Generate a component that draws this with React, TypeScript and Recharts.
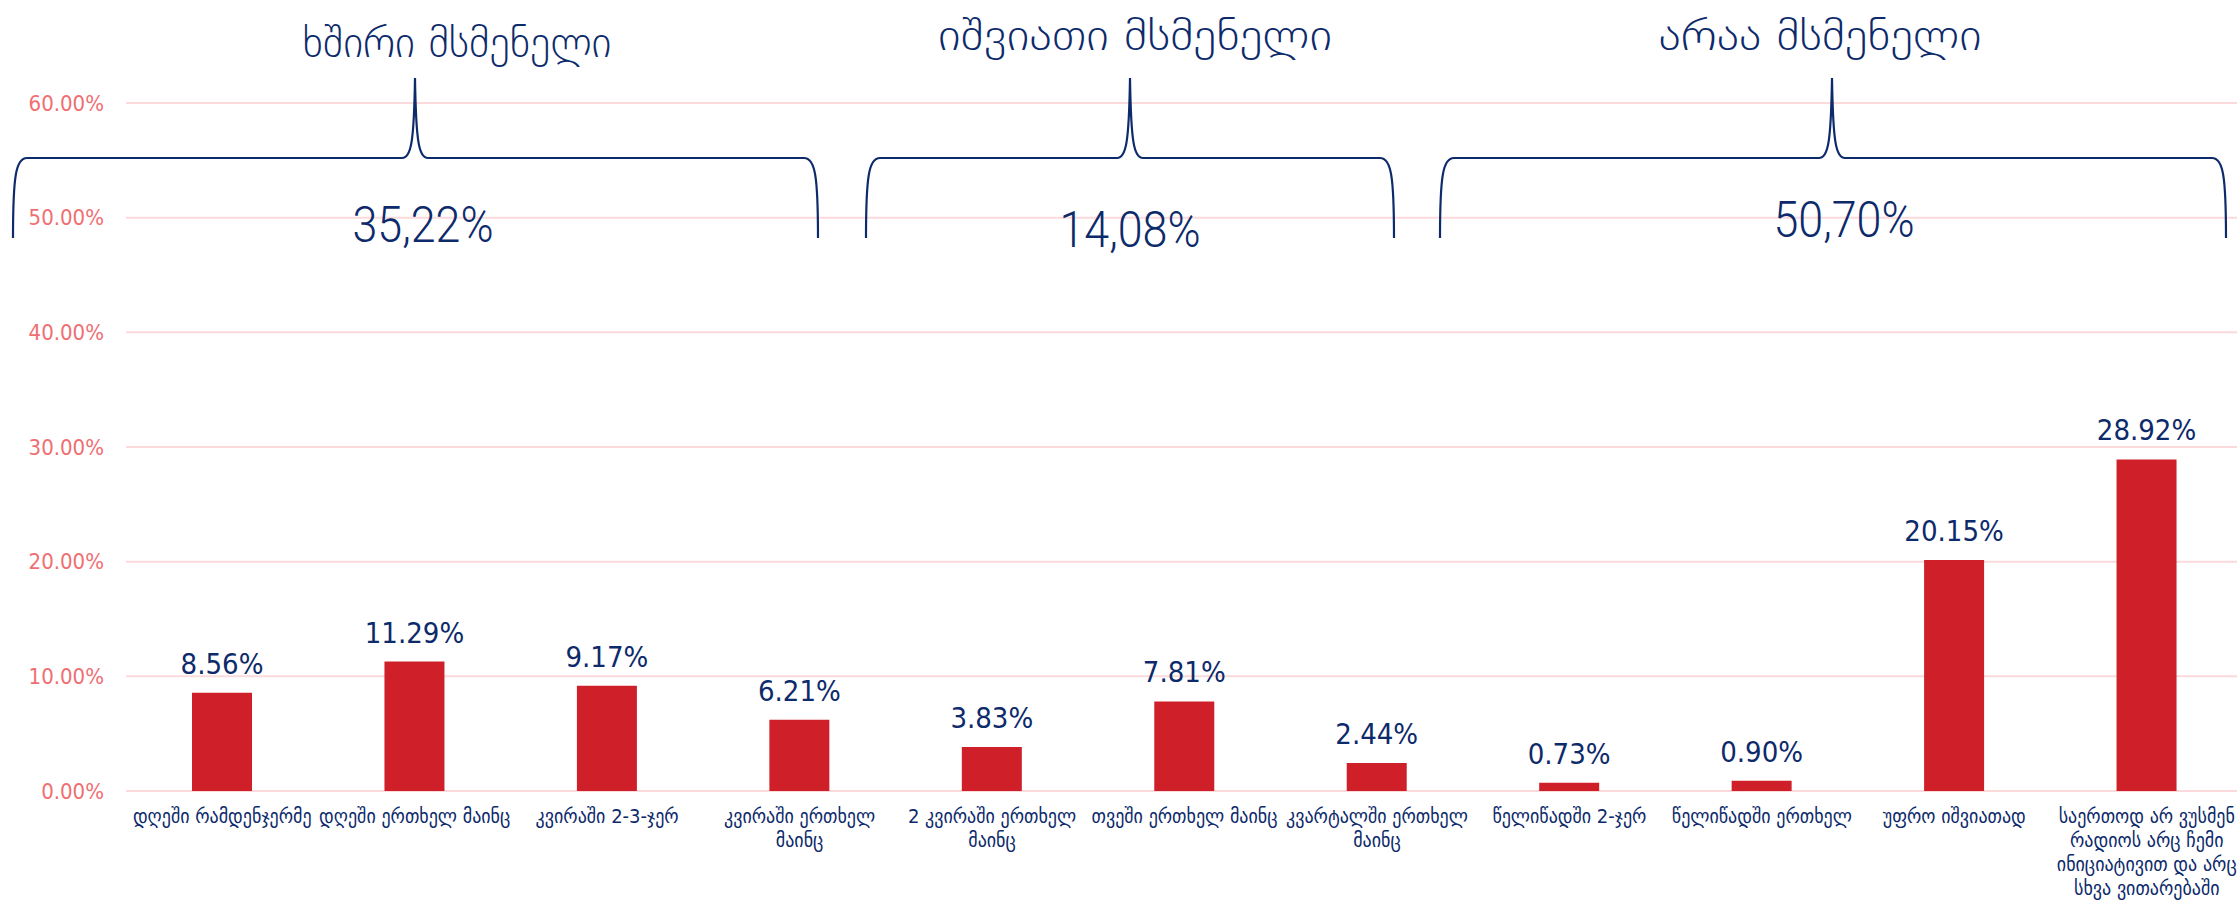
import React from 'react';
import { BarChart, Bar, XAxis, YAxis, CartesianGrid, LabelList } from 'recharts';

// ---- data ----
const categories: string[] = [
  'დღეში რამდენჯერმე',
  'დღეში ერთხელ მაინც',
  'კვირაში 2-3-ჯერ',
  'კვირაში ერთხელ მაინც',
  '2 კვირაში ერთხელ მაინც',
  'თვეში ერთხელ მაინც',
  'კვარტალში ერთხელ მაინც',
  'წელიწადში 2-ჯერ',
  'წელიწადში ერთხელ',
  'უფრო იშვიათად',
  'საერთოდ არ ვუსმენ რადიოს არც ჩემი ინიციატივით და არც სხვა ვითარებაში',
];
const shares: number[] = [8.56, 11.29, 9.17, 6.21, 3.83, 7.81, 2.44, 0.73, 0.9, 20.15, 28.92];
const yTicks: number[] = [0, 10, 20, 30, 40, 50, 60];
const groupTitles: string[] = ['ხშირი მსმენელი', 'იშვიათი მსმენელი', 'არაა მსმენელი'];
const groupTotals: string[] = ['35,22%', '14,08%', '50,70%'];

// ---- styling / layout (annotation overlay) ----
const NAVY = '#0D2A6B';
const RED = '#CF2029';
const GRID = '#FBDADB';
const TICK = '#EF6E73';

const braceLayout = [
  { x1: 13, x2: 818, cx: 415, titleX: 457, titleY: 57, titleW: 309, totalX: 423, totalY: 242 },
  { x1: 866, x2: 1394, cx: 1130, titleX: 1135, titleY: 50, titleW: 394, totalX: 1130, totalY: 247 },
  { x1: 1440, x2: 2226, cx: 1832, titleX: 1820, titleY: 50, titleW: 323, totalX: 1844, totalY: 237 },
];

const data = categories.map((name, i) => ({ name, value: shares[i] }));

const wrap = (s: string, max = 19): string[] => {
  const words = s.split(' ');
  const lines: string[] = [];
  let cur = '';
  for (const w of words) {
    const t = cur ? cur + ' ' + w : w;
    if (t.length > max && cur) {
      lines.push(cur);
      cur = w;
    } else cur = t;
  }
  if (cur) lines.push(cur);
  return lines;
};

const XTick = (props: any) => {
  const { x, y, payload } = props;
  const lines = wrap(String(payload.value));
  return (
    <text
      x={x}
      y={y}
      textAnchor="middle"
      fill={NAVY}
      fontSize={20}
      fontFamily="'DejaVu Sans Condensed', 'DejaVu Sans', sans-serif"
    >
      {lines.map((l, i) => (
        <tspan key={i} x={x} dy={i === 0 ? 32 : 24}>
          {l}
        </tspan>
      ))}
    </text>
  );
};

const bracePath = (x1: number, x2: number, cx: number) => {
  const yTop = 158;
  const yBot = 238;
  const yPeak = 78;
  return [
    `M ${x1} ${yBot}`,
    `C ${x1} ${yTop + 17}, ${x1 + 3} ${yTop}, ${x1 + 14} ${yTop}`,
    `L ${cx - 13} ${yTop}`,
    `C ${cx - 4} ${yTop}, ${cx - 1} ${yTop - 15}, ${cx} ${yPeak}`,
    `C ${cx + 1} ${yTop - 15}, ${cx + 4} ${yTop}, ${cx + 13} ${yTop}`,
    `L ${x2 - 14} ${yTop}`,
    `C ${x2 - 3} ${yTop}, ${x2} ${yTop + 17}, ${x2} ${yBot}`,
  ].join(' ');
};

export default function App() {
  return (
    <div
      style={{
        position: 'fixed',
        left: 0,
        top: 0,
        width: 2237,
        height: 902,
        overflow: 'hidden',
        background: '#ffffff',
      }}
    >
      <BarChart
        width={2243}
        height={910}
        data={data}
        margin={{ top: 103, right: 0, bottom: 0, left: 0 }}
      >
        <CartesianGrid vertical={false} stroke={GRID} strokeWidth={2} />
        <YAxis
          width={126}
          domain={[0, 60]}
          ticks={yTicks}
          axisLine={false}
          tickLine={false}
          tickSize={0}
          tickMargin={22}
          tickFormatter={(v: number) => v.toFixed(2) + '%'}
          tick={{ fill: TICK, fontSize: 22, fontFamily: "'DejaVu Sans Condensed', 'DejaVu Sans', sans-serif" }}
        />
        <XAxis
          dataKey="name"
          height={119}
          interval={0}
          axisLine={false}
          tickLine={false}
          tickSize={0}
          tickMargin={0}
          tick={<XTick />}
        />
        <Bar dataKey="value" fill={RED} barSize={60} isAnimationActive={false}>
          <LabelList
            dataKey="value"
            position="top"
            offset={19}
            formatter={(v: any) => Number(v).toFixed(2) + '%'}
            style={{ fill: NAVY, fontSize: 29, fontFamily: "'DejaVu Sans Condensed', 'DejaVu Sans', sans-serif" }}
          />
        </Bar>
      </BarChart>
      <svg
        width={2237}
        height={902}
        style={{ position: 'absolute', left: 0, top: 0, pointerEvents: 'none' }}
      >
        {braceLayout.map((b, i) => (
          <g key={i}>
            <path d={bracePath(b.x1, b.x2, b.cx)} fill="none" stroke={NAVY} strokeWidth={2.2} />
            <text
              x={b.titleX}
              y={b.titleY}
              textAnchor="middle"
              fill={NAVY}
              fontSize={42}
              fontWeight={200}
              fontFamily="'DejaVu Sans', sans-serif"
              textLength={b.titleW}
              lengthAdjust="spacingAndGlyphs"
            >
              {groupTitles[i]}
            </text>
            <text
              x={b.totalX}
              y={b.totalY}
              textAnchor="middle"
              fill={NAVY}
              fontSize={50}
              fontWeight={300}
              fontFamily="Roboto, sans-serif"
              textLength={141}
              lengthAdjust="spacingAndGlyphs"
            >
              {groupTotals[i]}
            </text>
          </g>
        ))}
      </svg>
    </div>
  );
}
